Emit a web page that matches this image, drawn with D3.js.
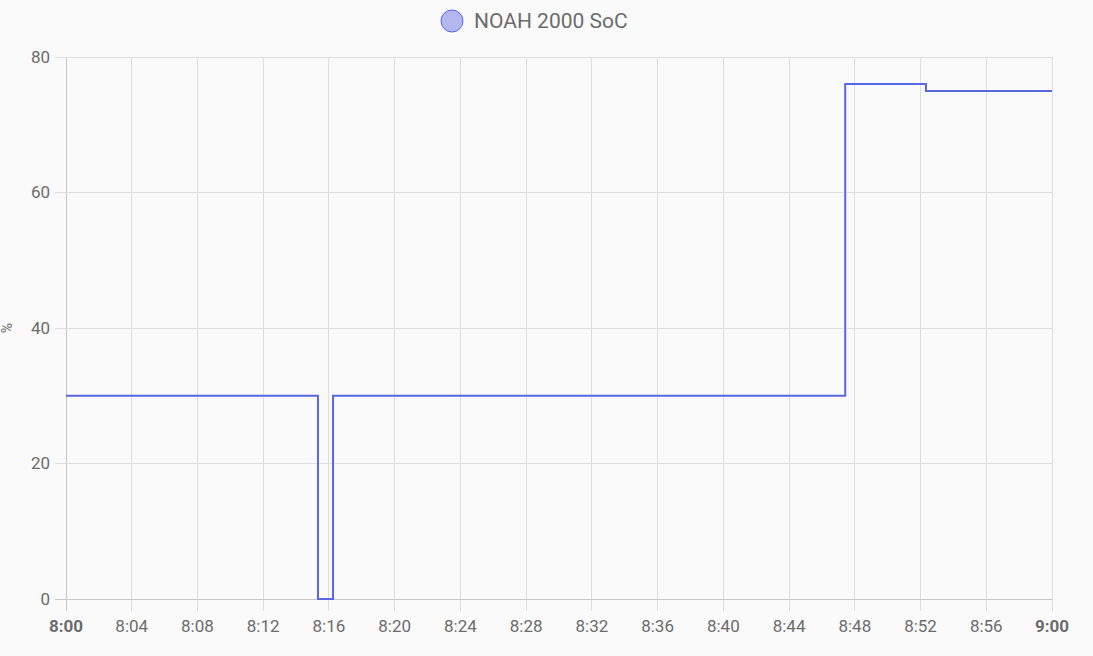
<!DOCTYPE html>
<html><head><meta charset="utf-8">
<script src="https://cdn.jsdelivr.net/npm/d3@7"></script>
<style>
html,body{margin:0;padding:0;background:#fafafa;}
svg{display:block;font-family:Roboto,"Noto Sans",sans-serif;}
</style></head>
<body><svg id="c" width="1093" height="656"></svg>
<script>
const seriesName = "NOAH 2000 SoC";
const times = ["08:00:00","08:15:20","08:16:15","08:47:25","08:52:20","09:00:00"];
const values = [30, 0, 30, 76, 75, 75];
const yTicks = [0, 20, 40, 60, 80];
const yLabel = "%";

const W = 1093, H = 656;
const m = {left: 66, right: 41, top: 57, bottom: 57};
const parse = d3.timeParse("%H:%M:%S");
const data = times.map((t, i) => ({t: parse(t), v: values[i]}));
const svg = d3.select("#c");
const textCol = "#6c6c6c", gridCol = "#dedede", axisCol = "#c8c8c8";
const lineCol = "#5a67e3";

const x = d3.scaleTime().domain([parse("08:00:00"), parse("09:00:00")]).range([m.left, W - m.right]);
const y = d3.scaleLinear().domain([0, 80]).range([H - m.bottom, m.top]);

const xTicks = d3.range(0, 61, 4).map(mm => new Date(x.domain()[0].getTime() + mm * 60000));
const fmt = d3.timeFormat("%-H:%M");

// grid
svg.append("g").selectAll("line").data(xTicks).join("line")
  .attr("x1", d => x(d)).attr("x2", d => x(d))
  .attr("y1", m.top).attr("y2", H - m.bottom + 12)
  .attr("stroke", (d, i) => i === 0 ? axisCol : gridCol).attr("stroke-width", 1)
  .attr("shape-rendering", "crispEdges");
svg.append("g").selectAll("line").data(yTicks).join("line")
  .attr("x1", m.left - 11).attr("x2", W - m.right)
  .attr("y1", d => y(d)).attr("y2", d => y(d))
  .attr("stroke", d => d === 0 ? axisCol : gridCol).attr("stroke-width", 1)
  .attr("shape-rendering", "crispEdges");

// y tick labels
svg.append("g").selectAll("text").data(yTicks).join("text")
  .attr("x", m.left - 16).attr("y", d => y(d)).attr("dy", "0.35em")
  .attr("text-anchor", "end").attr("fill", textCol).attr("font-size", 17)
  .text(d => d);

// x tick labels
svg.append("g").selectAll("text").data(xTicks).join("text")
  .attr("x", d => x(d)).attr("y", H - m.bottom + 33)
  .attr("text-anchor", "middle").attr("fill", textCol).attr("font-size", 17)
  .attr("font-weight", d => d.getMinutes() === 0 ? "bold" : "normal")
  .text(d => fmt(d));

// y label
svg.append("text").attr("transform", `translate(12,${(m.top + H - m.bottom) / 2}) rotate(-90)`)
  .attr("text-anchor", "middle").attr("fill", textCol).attr("font-size", 14).text(yLabel);

// line
const line = d3.line().x(d => x(d.t)).y(d => y(d.v)).curve(d3.curveStepAfter);
svg.append("path").datum(data).attr("d", line)
  .attr("fill", "none").attr("stroke", lineCol).attr("stroke-width", 2);

// legend
const lg = svg.append("g");
lg.append("circle").attr("cx", 452).attr("cy", 21).attr("r", 11)
  .attr("fill", "rgba(90,103,227,0.45)").attr("stroke", lineCol).attr("stroke-width", 1);
lg.append("text").attr("x", 474).attr("y", 28).attr("fill", textCol).attr("font-size", 21)
  .text(seriesName);
</script></body></html>
